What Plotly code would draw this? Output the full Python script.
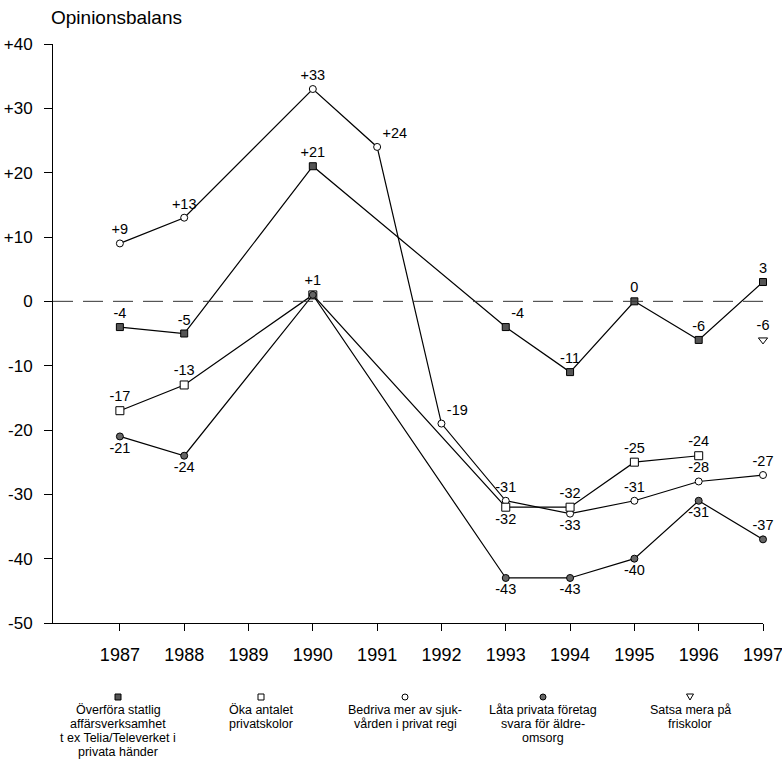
import plotly.graph_objects as go

# ---------------- data ----------------
years_s1 = [1987, 1988, 1990, 1993, 1994, 1995, 1996, 1997]
vals_s1 = [-4, -5, 21, -4, -11, 0, -6, 3]
lbl_s1 = ["-4", "-5", "+21", "-4", "-11", "0", "-6", "3"]

years_s2 = [1987, 1988, 1990, 1993, 1994, 1995, 1996]
vals_s2 = [-17, -13, 1, -32, -32, -25, -24]
lbl_s2 = ["-17", "-13", "+1", "-32", "-32", "-25", "-24"]

years_s3 = [1987, 1988, 1990, 1991, 1992, 1993, 1994, 1995, 1996, 1997]
vals_s3 = [9, 13, 33, 24, -19, -31, -33, -31, -28, -27]
lbl_s3 = ["+9", "+13", "+33", "+24", "-19", "-31", "-33", "-31", "-28", "-27"]

years_s4 = [1987, 1988, 1990, 1993, 1994, 1995, 1996, 1997]
vals_s4 = [-21, -24, 1, -43, -43, -40, -31, -37]
lbl_s4 = ["-21", "-24", "", "-43", "-43", "-40", "-31", "-37"]

years_s5 = [1997]
vals_s5 = [-6]
lbl_s5 = ["-6"]

series_names = [
    ["Överföra statlig", "affärsverksamhet", "t ex Telia/Televerket i", "privata händer"],
    ["Öka antalet", "privatskolor"],
    ["Bedriva mer av sjuk-", "vården i privat regi"],
    ["Låta privata företag", "svara för äldre-", "omsorg"],
    ["Satsa mera på", "friskolor"],
]

x_ticks = list(range(1987, 1998))
y_ticks = [40, 30, 20, 10, 0, -10, -20, -30, -40, -50]
y_tick_text = ["+40", "+30", "+20", "+10", "0", "-10", "-20", "-30", "-40", "-50"]

# ---------------- styles ----------------
FONT = "Liberation Sans, Arial, sans-serif"
pos_s1 = ["top center", "top center", "top center", "top right", "top center", "top center", "top center", "top center"]
pos_s2 = ["top center", "top center", "top center", "bottom center", "top center", "top center", "top center"]
pos_s3 = ["top center", "top center", "top center", "top right", "top right", "top center", "bottom center",
          "top center", "top center", "top center"]
pos_s4 = ["bottom center", "bottom center", "top center", "bottom center", "bottom center", "bottom center",
          "bottom center", "top center"]
pos_s5 = ["top center"]

fig = go.Figure()

def add(xs, ys, lbls, pos, symbol, fill, size, mode="lines+markers+text"):
    fig.add_trace(go.Scatter(
        x=xs, y=ys, text=lbls, textposition=pos, mode=mode,
        line=dict(color="black", width=1.2),
        marker=dict(symbol=symbol, size=size, color=fill, line=dict(color="black", width=1)),
        textfont=dict(family=FONT, size=14.5, color="black"),
        cliponaxis=False, showlegend=False, hoverinfo="skip",
    ))

add(years_s3, vals_s3, lbl_s3, pos_s3, "circle", "white", 7)
add(years_s2, vals_s2, lbl_s2, pos_s2, "square", "white", 8)
add(years_s4, vals_s4, lbl_s4, pos_s4, "circle", "#666666", 7)
add(years_s1, vals_s1, lbl_s1, pos_s1, "square", "#555555", 7)
add(years_s5, vals_s5, lbl_s5, pos_s5, "triangle-down-open", "black", 8, mode="markers+text")

# zero reference line
fig.add_shape(type="line", xref="paper", yref="y", x0=0, x1=1, y0=0, y1=0,
              line=dict(color="#333333", width=1, dash="20px,10px"))

# ---------------- custom legend ----------------
L, R, T, B = 53, 19, 44, 142
W, H = 782, 765
pw, ph = W - L - R, H - T - B
leg_cx = [118, 261, 405, 543, 690]
mark_py = 697
text_py0 = 710
line_gap = 14

def px2paper(px):
    return (px - L) / pw

def py2paper(py):
    return (H - B - py) / ph

for i, cx in enumerate(leg_cx):
    xa, ya = px2paper(cx), py2paper(mark_py)
    common = dict(xref="paper", yref="paper", xsizemode="pixel", ysizemode="pixel",
                  xanchor=xa, yanchor=ya, line=dict(color="black", width=1))
    if i == 0:
        fig.add_shape(type="rect", x0=-3, x1=3, y0=-3, y1=3, fillcolor="#555555", **common)
    elif i == 1:
        fig.add_shape(type="rect", x0=-3, x1=3, y0=-3, y1=3, fillcolor="white", **common)
    elif i == 2:
        fig.add_shape(type="circle", x0=-3, x1=3, y0=-3, y1=3, fillcolor="white", **common)
    elif i == 3:
        fig.add_shape(type="circle", x0=-3, x1=3, y0=-3, y1=3, fillcolor="#666666", **common)
    else:
        fig.add_shape(type="path", path="M -3.5 3 L 3.5 3 L 0 -3 Z", fillcolor="white", **common)
    for j, line in enumerate(series_names[i]):
        fig.add_annotation(x=xa, y=py2paper(text_py0 + j * line_gap), xref="paper", yref="paper",
                           text=line, showarrow=False, xanchor="center", yanchor="middle",
                           font=dict(family=FONT, size=12.5, color="black"))

# title
fig.add_annotation(x=px2paper(49), y=py2paper(18), xref="paper", yref="paper",
                   text="Opinionsbalans", showarrow=False, xanchor="left", yanchor="middle",
                   font=dict(family=FONT, size=19, color="black"))

fig.update_layout(
    width=W, height=H,
    margin=dict(l=L, r=R, t=T, b=B, autoexpand=False),
    paper_bgcolor="white", plot_bgcolor="white",
    font=dict(family=FONT, color="black"),
    xaxis=dict(range=[1985.96, 1997], tickvals=x_ticks, ticktext=[str(v) for v in x_ticks],
               showgrid=False, zeroline=False, showline=True, linecolor="black", linewidth=1,
               ticks="outside", ticklen=7, tickcolor="black", tickfont=dict(size=18),
               ticklabelstandoff=8, automargin=False, ticklabeloverflow="allow"),
    yaxis=dict(range=[-50, 40], tickvals=y_ticks, ticktext=y_tick_text,
               showgrid=False, zeroline=False, showline=True, linecolor="black", linewidth=1,
               ticks="outside", ticklen=8, tickcolor="black", tickfont=dict(size=17),
               ticklabelstandoff=8, automargin=False, ticklabeloverflow="allow"),
)

fig.write_html("out.html", config={"displayModeBar": False},
               post_script="document.body.style.margin='0';")
